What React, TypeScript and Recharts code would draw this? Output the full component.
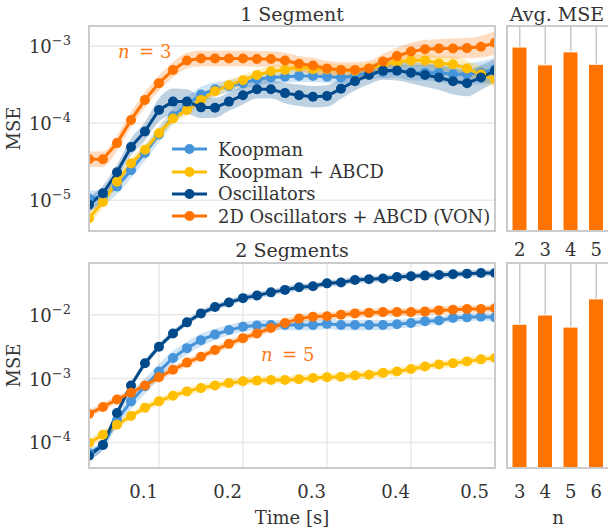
import React from 'react';
import {
  ComposedChart,
  BarChart,
  Bar,
  Line,
  Area,
  XAxis,
  YAxis,
  CartesianGrid,
  Legend,
  Label,
} from 'recharts';

const FONT = '"DejaVu Serif", serif';
const INK = '#333333';
const GRID = '#e9e9e9';
const FRAME = '#cbcbcb';
const FS = 18; // axis / legend text
const FS_TITLE = 19;
const FS_SUP = 13;

// sample times [s]
const times = [
  0.0167, 0.0333, 0.05, 0.0667, 0.0833, 0.1, 0.1167, 0.1333, 0.15, 0.1667,
  0.1833, 0.2, 0.2167, 0.2333, 0.25, 0.2667, 0.2833, 0.3, 0.3167, 0.3333,
  0.35, 0.3667, 0.3833, 0.4, 0.4167, 0.4333, 0.45, 0.4667, 0.4833, 0.5,
];
const xTicks = [0.1, 0.2, 0.3, 0.4, 0.5];

const seriesKeys = ['koopman', 'koopmanAbcd', 'oscillators', 'von'];
const seriesNames = ['Koopman', 'Koopman + ABCD', 'Oscillators', '2D Oscillators + ABCD (VON)'];
const seriesColors = ['#4694d9', '#ffbf00', '#004a8c', '#ff7300'];

// 1 Segment
const koopman1 = [1.05e-5, 1.12e-5, 1.5e-5, 2.45e-5, 4.1e-5, 7.1e-5, 1.23e-4, 1.74e-4, 2.35e-4, 2.75e-4, 3.0e-4, 3.3e-4, 3.7e-4, 3.9e-4, 4.0e-4, 4.1e-4, 4.1e-4, 4.0e-4, 3.9e-4, 4.1e-4, 4.5e-4, 4.6e-4, 4.8e-4, 4.5e-4, 4.5e-4, 4.5e-4, 4.3e-4, 4.3e-4, 4.5e-4, 5.0e-4];
const koopmanAbcd1 = [5.8e-6, 9.5e-6, 1.74e-5, 3.0e-5, 4.5e-5, 7.4e-5, 1.15e-4, 1.48e-4, 2.0e-4, 2.6e-4, 3.1e-4, 3.6e-4, 4.2e-4, 4.7e-4, 4.9e-4, 5.4e-4, 5.0e-4, 5.0e-4, 4.9e-4, 4.8e-4, 5.1e-4, 5.8e-4, 6.2e-4, 6.5e-4, 6.5e-4, 6.0e-4, 5.8e-4, 5.1e-4, 4.3e-4, 3.7e-4];
const oscillators1 = [8.7e-6, 1.23e-5, 2.3e-5, 4.9e-5, 7.8e-5, 1.48e-4, 1.9e-4, 1.9e-4, 1.6e-4, 1.58e-4, 1.9e-4, 2.3e-4, 2.75e-4, 2.75e-4, 2.45e-4, 2.3e-4, 2.2e-4, 2.25e-4, 2.8e-4, 3.5e-4, 4.2e-4, 4.8e-4, 4.8e-4, 4.5e-4, 4.2e-4, 3.9e-4, 3.5e-4, 3.3e-4, 3.9e-4, 4.8e-4];
const von1 = [3.4e-5, 3.4e-5, 5.5e-5, 1.1e-4, 2.0e-4, 3.3e-4, 4.9e-4, 6.5e-4, 6.9e-4, 6.9e-4, 6.9e-4, 6.9e-4, 6.8e-4, 6.8e-4, 6.5e-4, 5.9e-4, 5.6e-4, 5.1e-4, 4.9e-4, 4.9e-4, 5.1e-4, 6.3e-4, 7.4e-4, 8.5e-4, 9.1e-4, 9.3e-4, 9.3e-4, 9.4e-4, 9.8e-4, 1.1e-3];

// half width of the shaded bands, in decades
const koopmanSpread1 = [0.1, 0.1, 0.1, 0.1, 0.1, 0.1, 0.1, 0.1, 0.1, 0.09, 0.08, 0.08, 0.08, 0.08, 0.08, 0.08, 0.08, 0.08, 0.08, 0.08, 0.08, 0.08, 0.09, 0.1, 0.1, 0.12, 0.13, 0.14, 0.15, 0.15];
const koopmanAbcdSpread1 = [0.08, 0.08, 0.08, 0.07, 0.07, 0.07, 0.07, 0.07, 0.07, 0.07, 0.07, 0.07, 0.07, 0.07, 0.07, 0.07, 0.07, 0.07, 0.07, 0.07, 0.07, 0.07, 0.07, 0.08, 0.08, 0.09, 0.1, 0.1, 0.1, 0.1];
const oscillatorsSpread1 = [0.1, 0.1, 0.1, 0.11, 0.12, 0.15, 0.17, 0.16, 0.14, 0.13, 0.12, 0.12, 0.12, 0.12, 0.13, 0.14, 0.14, 0.14, 0.13, 0.12, 0.12, 0.12, 0.13, 0.14, 0.15, 0.16, 0.17, 0.17, 0.16, 0.15];
const vonSpread1 = [0.1, 0.1, 0.1, 0.1, 0.1, 0.1, 0.1, 0.1, 0.1, 0.1, 0.1, 0.1, 0.1, 0.1, 0.1, 0.1, 0.1, 0.1, 0.1, 0.1, 0.1, 0.1, 0.11, 0.11, 0.12, 0.12, 0.13, 0.13, 0.14, 0.15];

// 2 Segments
const koopman2 = [6.8e-5, 9.1e-5, 2.24e-4, 4.4e-4, 7.6e-4, 1.29e-3, 2.1e-3, 3.0e-3, 4.0e-3, 4.9e-3, 5.75e-3, 6.5e-3, 6.8e-3, 6.9e-3, 6.9e-3, 6.9e-3, 6.9e-3, 7.2e-3, 6.9e-3, 6.9e-3, 6.9e-3, 6.9e-3, 7.1e-3, 7.4e-3, 7.9e-3, 8.1e-3, 8.9e-3, 9.1e-3, 9.3e-3, 9.1e-3];
const koopmanAbcd2 = [9.8e-5, 1.32e-4, 1.9e-4, 2.6e-4, 3.5e-4, 4.4e-4, 5.4e-4, 6.3e-4, 7.1e-4, 7.8e-4, 8.5e-4, 9.1e-4, 9.3e-4, 9.5e-4, 9.5e-4, 9.8e-4, 1.02e-3, 1.05e-3, 1.07e-3, 1.12e-3, 1.15e-3, 1.23e-3, 1.29e-3, 1.41e-3, 1.55e-3, 1.66e-3, 1.74e-3, 1.86e-3, 2.0e-3, 2.1e-3];
const oscillators2 = [6.2e-5, 9.1e-5, 2.9e-4, 7.8e-4, 1.74e-3, 3.16e-3, 5.1e-3, 7.6e-3, 1.05e-2, 1.32e-2, 1.55e-2, 1.82e-2, 2.0e-2, 2.24e-2, 2.45e-2, 2.7e-2, 2.8e-2, 3.1e-2, 3.2e-2, 3.5e-2, 3.6e-2, 3.7e-2, 3.9e-2, 4.0e-2, 4.1e-2, 4.2e-2, 4.3e-2, 4.4e-2, 4.5e-2, 4.5e-2];
const von2 = [2.8e-4, 3.6e-4, 4.7e-4, 6.0e-4, 7.8e-4, 1.05e-3, 1.38e-3, 1.78e-3, 2.2e-3, 2.8e-3, 3.5e-3, 4.3e-3, 5.1e-3, 6.2e-3, 7.4e-3, 8.7e-3, 9.3e-3, 9.5e-3, 1.0e-2, 1.05e-2, 1.07e-2, 1.1e-2, 1.1e-2, 1.1e-2, 1.12e-2, 1.17e-2, 1.2e-2, 1.23e-2, 1.23e-2, 1.26e-2];

const koopmanSpread2 = [0.08, 0.08, 0.1, 0.12, 0.12, 0.12, 0.11, 0.1, 0.1, 0.09, 0.08, 0.08, 0.08, 0.08, 0.08, 0.08, 0.08, 0.08, 0.08, 0.08, 0.08, 0.08, 0.07, 0.07, 0.07, 0.06, 0.06, 0.06, 0.06, 0.06];
const koopmanAbcdSpread2 = [0.07, 0.07, 0.07, 0.06, 0.06, 0.06, 0.06, 0.06, 0.06, 0.06, 0.06, 0.06, 0.06, 0.06, 0.06, 0.06, 0.06, 0.06, 0.06, 0.06, 0.06, 0.06, 0.06, 0.06, 0.06, 0.06, 0.06, 0.06, 0.06, 0.06];
const oscillatorsSpread2 = [0.06, 0.06, 0.06, 0.05, 0.05, 0.05, 0.05, 0.05, 0.05, 0.05, 0.05, 0.05, 0.05, 0.05, 0.05, 0.05, 0.05, 0.05, 0.05, 0.05, 0.05, 0.05, 0.05, 0.05, 0.05, 0.05, 0.05, 0.05, 0.05, 0.05];
const vonSpread2 = [0.06, 0.06, 0.06, 0.06, 0.06, 0.06, 0.06, 0.06, 0.06, 0.06, 0.06, 0.06, 0.06, 0.06, 0.06, 0.06, 0.06, 0.06, 0.06, 0.06, 0.06, 0.06, 0.06, 0.06, 0.06, 0.06, 0.06, 0.06, 0.06, 0.06];

// average MSE per n
const avgN1 = ['2', '3', '4', '5'];
const avgMse1 = [9.7e-4, 5.7e-4, 8.4e-4, 5.8e-4];
const avgN2 = ['3', '4', '5', '6'];
const avgMse2 = [7.1e-3, 9.9e-3, 6.4e-3, 1.77e-2];

const yTicks1 = [1e-5, 1e-4, 1e-3];
const yDomain1 = [3.98e-6, 1.82e-3];
const yTicks2 = [1e-4, 1e-3, 1e-2];
const yDomain2 = [3.98e-5, 6.46e-2];

function buildRows(values: number[][], spreads: number[][]) {
  return times.map((t, i) => {
    const row: Record<string, any> = { t };
    seriesKeys.forEach((key, s) => {
      const v = values[s][i];
      const f = Math.pow(10, spreads[s][i]);
      row[key] = v;
      row[key + 'Band'] = [v / f, v * f];
    });
    return row;
  });
}

const rows1 = buildRows(
  [koopman1, koopmanAbcd1, oscillators1, von1],
  [koopmanSpread1, koopmanAbcdSpread1, oscillatorsSpread1, vonSpread1]
);
const rows2 = buildRows(
  [koopman2, koopmanAbcd2, oscillators2, von2],
  [koopmanSpread2, koopmanAbcdSpread2, oscillatorsSpread2, vonSpread2]
);
const barRows1 = avgN1.map((n, i) => ({ n, mse: avgMse1[i] }));
const barRows2 = avgN2.map((n, i) => ({ n, mse: avgMse2[i] }));

const PowTick = (props: any) => {
  const { x, y, payload } = props;
  const exp = Math.round(Math.log10(payload.value));
  return (
    <text x={x - 18} y={y + 7} textAnchor="end" fill={INK} fontSize={FS} fontFamily={FONT}>
      10
      <tspan dy={-8} fontSize={FS_SUP}>
        {'\u2212' + Math.abs(exp)}
      </tspan>
    </text>
  );
};

const TimeTick = (props: any) => {
  const { x, y, payload } = props;
  return (
    <text x={x - 1} y={y + 30} textAnchor="end" fill={INK} fontSize={FS} fontFamily={FONT}>
      {payload.value.toFixed(1)}
    </text>
  );
};

const makeCenterTick = (dy: number) => (props: any) => {
  const { x, y, payload } = props;
  return (
    <text x={x} y={y + dy} textAnchor="middle" fill={INK} fontSize={FS} fontFamily={FONT}>
      {payload.value}
    </text>
  );
};

const MseLabel = (props: any) => {
  const { viewBox } = props;
  const cx = viewBox.x + 11;
  const cy = viewBox.y + viewBox.height / 2;
  return (
    <text
      x={cx}
      y={cy}
      transform={`rotate(-90 ${cx} ${cy})`}
      textAnchor="middle"
      fill={INK}
      fontSize={FS}
      fontFamily={FONT}
    >
      MSE
    </text>
  );
};

const renderLegend = () => (
  <div style={{ fontFamily: FONT, fontSize: 17.9, color: INK }}>
    {seriesNames.map((name, i) => (
      <div key={name} style={{ display: 'flex', alignItems: 'center', height: 22.4, whiteSpace: 'nowrap' }}>
        <svg width={46} height={12}>
          <line x1={0} y1={6} x2={35} y2={6} stroke={seriesColors[i]} strokeWidth={3} />
          <circle cx={17.5} cy={6} r={5} fill={seriesColors[i]} />
        </svg>
        <span>{name}</span>
      </div>
    ))}
  </div>
);

function CurvePanel(props: {
  rows: any[];
  domain: number[];
  ticks: number[];
  top: number;
  height: number;
  marginTop: number;
  xAxisHeight: number;
  bottomAxis: boolean;
  legend: boolean;
}) {
  const { rows, domain, ticks, top, height, marginTop, xAxisHeight, bottomAxis, legend } = props;
  return (
    <div style={{ position: 'absolute', left: 0, top }}>
      <ComposedChart width={500} height={height} data={rows} margin={{ top: marginTop, right: 5, bottom: 0, left: 9 }}>
        <CartesianGrid stroke={GRID} strokeWidth={1.5} />
        <XAxis
          type="number"
          dataKey="t"
          domain={[times[0], times[times.length - 1]]}
          ticks={xTicks}
          allowDataOverflow
          height={xAxisHeight}
          axisLine={false}
          tickLine={false}
          tickSize={0}
          tickMargin={0}
          tick={bottomAxis ? <TimeTick /> : false}
        >
          {bottomAxis && (
            <Label value="Time [s]" position="insideBottom" offset={6} fill={INK} fontSize={FS} fontFamily={FONT} />
          )}
        </XAxis>
        <YAxis
          type="number"
          scale="log"
          domain={domain}
          ticks={ticks}
          allowDataOverflow
          width={80}
          axisLine={false}
          tickLine={false}
          tickSize={0}
          tickMargin={0}
          tick={<PowTick />}
        >
          <Label content={<MseLabel />} />
        </YAxis>
        {seriesKeys.map((key, i) => (
          <Area
            key={key + 'Band'}
            dataKey={key + 'Band'}
            type="monotone"
            stroke="none"
            fill={seriesColors[i]}
            fillOpacity={0.25}
            isAnimationActive={false}
            activeDot={false}
            legendType="none"
          />
        ))}
        {seriesKeys.map((key, i) => (
          <Line
            key={key}
            dataKey={key}
            name={seriesNames[i]}
            type="linear"
            stroke={seriesColors[i]}
            strokeWidth={3}
            dot={{ r: 5, fill: seriesColors[i], stroke: 'none' }}
            activeDot={false}
            isAnimationActive={false}
          />
        ))}
        {legend && (
          <Legend
            layout="vertical"
            align="center"
            verticalAlign="middle"
            content={renderLegend}
            wrapperStyle={{ left: 172, top: 138, width: 330, height: 92 }}
          />
        )}
      </ComposedChart>
    </div>
  );
}

function AvgPanel(props: {
  rows: any[];
  domain: number[];
  ticks: number[];
  top: number;
  height: number;
  marginTop: number;
  xAxisHeight: number;
  tickDy: number;
  xLabel: boolean;
}) {
  const { rows, domain, ticks, top, height, marginTop, xAxisHeight, tickDy, xLabel } = props;
  const Tick = makeCenterTick(tickDy);
  return (
    <div style={{ position: 'absolute', left: 500, top }}>
      <BarChart width={109} height={height} data={rows} margin={{ top: marginTop, right: 0, bottom: 0, left: 7 }}>
        <CartesianGrid vertical={false} stroke="#efefef" strokeWidth={1.5} />
        <CartesianGrid horizontal={false} stroke="#c9c9c9" strokeWidth={1.5} />
        <XAxis
          dataKey="n"
          height={xAxisHeight}
          axisLine={false}
          tickLine={false}
          tickSize={0}
          tickMargin={0}
          tick={<Tick />}
        >
          {xLabel && <Label value="n" position="insideBottom" offset={6} fill={INK} fontSize={FS} fontFamily={FONT} />}
        </XAxis>
        <YAxis
          type="number"
          scale="log"
          domain={domain}
          ticks={ticks}
          allowDataOverflow
          width={0}
          axisLine={false}
          tickLine={false}
          tick={false}
        />
        <Bar dataKey="mse" fill="#ff7400" stroke="#ffffff" strokeWidth={1} barSize={15} isAnimationActive={false} />
      </BarChart>
    </div>
  );
}

const frame = (left: number, top: number, width: number, height: number) => (
  <div
    key={`${left}-${top}`}
    style={{
      position: 'absolute',
      left,
      top,
      width,
      height,
      border: `2px solid ${FRAME}`,
      boxSizing: 'border-box',
      pointerEvents: 'none',
    }}
  />
);

export default function App() {
  return (
    <div
      style={{
        position: 'absolute',
        left: 0,
        top: 0,
        width: 608,
        height: 531,
        overflow: 'hidden',
        background: '#ffffff',
      }}
    >
      <CurvePanel
        rows={rows1}
        domain={yDomain1}
        ticks={yTicks1}
        top={0}
        height={231}
        marginTop={26}
        xAxisHeight={0}
        bottomAxis={false}
        legend
      />
      <CurvePanel
        rows={rows2}
        domain={yDomain2}
        ticks={yTicks2}
        top={240}
        height={290}
        marginTop={23}
        xAxisHeight={62}
        bottomAxis
        legend={false}
      />
      <AvgPanel
        rows={barRows1}
        domain={yDomain1}
        ticks={yTicks1}
        top={0}
        height={260}
        marginTop={26}
        xAxisHeight={29}
        tickDy={25}
        xLabel={false}
      />
      <AvgPanel
        rows={barRows2}
        domain={yDomain2}
        ticks={yTicks2}
        top={240}
        height={290}
        marginTop={23}
        xAxisHeight={62}
        tickDy={30}
        xLabel
      />
      {frame(88, 25, 408, 207)}
      {frame(88, 262, 408, 207)}
      {frame(506, 25, 104, 207)}
      {frame(506, 262, 104, 207)}
      <svg
        width={608}
        height={531}
        style={{ position: 'absolute', left: 0, top: 0, pointerEvents: 'none' }}
        fontFamily={FONT}
      >
        <text x={292} y={21} textAnchor="middle" fill={INK} fontSize={FS_TITLE}>1 Segment</text>
        <text x={557} y={21} textAnchor="middle" fill={INK} fontSize={FS_TITLE}>Avg. MSE</text>
        <text x={292} y={257} textAnchor="middle" fill={INK} fontSize={FS_TITLE}>2 Segments</text>
        <text y={58} fill="#ff7a14" fontSize={FS}>
          <tspan x={118} fontStyle="italic">n</tspan>
          <tspan x={139}>=</tspan>
          <tspan x={160}>3</tspan>
        </text>
        <text y={361} fill="#ff7a14" fontSize={FS}>
          <tspan x={261} fontStyle="italic">n</tspan>
          <tspan x={282}>=</tspan>
          <tspan x={303}>5</tspan>
        </text>
      </svg>
    </div>
  );
}
